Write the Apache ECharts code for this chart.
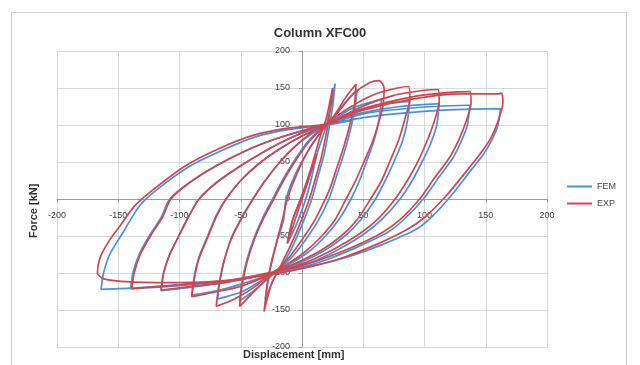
<!DOCTYPE html>
<html>
<head>
<meta charset="utf-8">
<script src="https://cdn.jsdelivr.net/npm/echarts@6/dist/echarts.min.js"></script>
<style>
  html, body { margin: 0; padding: 0; background: #fff; }
  #chart { width: 640px; height: 365px; }
</style>
</head>
<body>
<div id="chart"></div>
<script>
// axis ticks
const xTicks = [-200, -150, -100, -50, 0, 50, 100, 150, 200];
const yTicks = [-200, -150, -100, -50, 0, 50, 100, 150, 200];

// FEM (blue) - one array per cycle: up-branch then down-branch, [disp mm, force kN]
const femCycle1 = [[0, 0], [6, 30], [12, 60], [8, 30], [4, 5], [0, -15], [-6, -40], [-12, -60]];
const femCycle2 = [[-8, -30], [0, 5], [8, 40], [15, 75], [20, 100], [24, 130], [27, 156],
  [25, 125], [22, 95], [18, 60], [13, 30], [8, 0], [0, -35], [-8, -65], [-16, -90], [-23, -108], [-30, -135]];
const femCycle3 = [[-28, -110], [-25, -85], [-20, -55], [-15, -28], [-13, 0], [-5, 35], [5, 65], [15, 90], [25, 108], [35, 130], [45, 148],
  [43, 120], [39, 90], [34, 60], [28, 30], [22, 0], [13, -30], [3, -55], [-8, -78], [-18, -94], [-28, -108], [-40, -125], [-51, -138]];
const femCycle4 = [[-49, -112], [-45, -82], [-39, -52], [-32, -25], [-24, 0], [-15, 28], [-5, 55], [5, 78], [15, 94], [25, 105], [40, 122], [65, 135],
  [63, 108], [59, 80], [53, 52], [47, 25], [40, 0], [30, -28], [18, -52], [5, -72], [-10, -88], [-22, -98], [-35, -112], [-50, -126], [-69, -135]];
const femCycle5 = [[-67, -110], [-63, -80], [-57, -50], [-48, -22], [-40, 0], [-30, 25], [-18, 50], [-5, 72], [8, 88], [20, 100], [40, 117], [65, 128], [88, 132],
  [86, 105], [82, 78], [75, 50], [68, 25], [60, 0], [48, -28], [35, -50], [18, -70], [0, -85], [-20, -97], [-28, -103], [-50, -115], [-70, -124], [-90, -130]];
const femCycle6 = [[-88, -105], [-84, -78], [-77, -50], [-70, -22], [-62, 0], [-50, 25], [-35, 48], [-18, 68], [0, 85], [20, 100], [45, 115], [80, 125], [112, 129],
  [110, 100], [105, 75], [98, 50], [90, 25], [80, 0], [65, -28], [50, -48], [30, -68], [10, -84], [-10, -94], [-25, -100], [-60, -112], [-90, -119], [-115, -124]];
const femCycle7 = [[-113, -100], [-108, -75], [-100, -48], [-92, -22], [-84, 0], [-70, 22], [-50, 45], [-30, 65], [-10, 82], [5, 92], [20, 100], [50, 115], [90, 123], [137, 127],
  [135, 100], [130, 78], [123, 55], [112, 30], [100, 2], [85, -25], [70, -45], [45, -65], [20, -82], [0, -92], [-25, -100], [-60, -110], [-100, -117], [-140, -121]];
const femCycle8 = [[-138, -100], [-133, -75], [-124, -48], [-115, -25], [-108, 0], [-92, 22], [-70, 45], [-45, 66], [-20, 82], [0, 92], [20, 100], [50, 110], [90, 117], [130, 121], [162, 122],
  [160, 100], [155, 80], [148, 60], [138, 39], [122, 5], [106, -24], [92, -42], [65, -62], [38, -78], [10, -90], [-25, -100], [-60, -110], [-100, -116], [-135, -120], [-164, -122]];
const femCycle9 = [[-162, -100], [-157, -75], [-146, -45], [-133, -10], [-119, 12], [-92, 44], [-65, 66], [-38, 84], [-10, 94], [20, 100], [40, 106]];

// EXP (red)
const expCycle1 = [[0, 0], [6, 30], [12, 60], [6, 30], [0, 0], [-6, -30], [-12, -60]];
const expCycle2 = [[-8, -30], [0, 5], [8, 45], [15, 85], [20, 110], [25, 150],
  [23, 120], [20, 90], [16, 58], [11, 28], [6, 0], [-2, -35], [-10, -65], [-18, -92], [-25, -115], [-31, -152]];
const expCycle3 = [[-29, -125], [-26, -95], [-21, -60], [-16, -28], [-12, 0], [-4, 35], [6, 68], [16, 92], [26, 112], [36, 138], [44, 155],
  [43, 130], [39, 100], [34, 70], [28, 40], [23, 15], [19, 0], [10, -30], [0, -55], [-10, -78], [-20, -95], [-30, -110], [-42, -130], [-51, -145]];
const expCycle4 = [[-49, -118], [-45, -86], [-39, -55], [-31, -25], [-23, 0], [-14, 28], [-4, 55], [6, 78], [16, 95], [28, 115], [42, 142], [55, 157], [63, 160], [67, 150],
  [66, 125], [62, 100], [57, 75], [50, 48], [43, 22], [36, 0], [27, -28], [15, -52], [2, -72], [-12, -88], [-25, -100], [-38, -118], [-55, -135], [-70, -145]];
const expCycle5 = [[-68, -118], [-64, -86], [-58, -55], [-49, -25], [-40, 0], [-30, 25], [-18, 50], [-5, 72], [8, 90], [20, 102], [40, 125], [60, 142], [78, 150], [87, 152],
  [88, 135], [84, 108], [79, 80], [72, 52], [65, 25], [56, 0], [45, -28], [32, -50], [15, -70], [-3, -85], [-20, -97], [-30, -105], [-50, -118], [-72, -126], [-90, -132]];
const expCycle6 = [[-88, -108], [-84, -80], [-77, -52], [-70, -24], [-62, 0], [-50, 25], [-35, 48], [-18, 68], [0, 85], [20, 100], [45, 122], [75, 140], [100, 147], [111, 148],
  [112, 132], [108, 105], [102, 78], [95, 52], [86, 25], [76, 0], [62, -27], [47, -47], [27, -67], [7, -83], [-12, -94], [-28, -102], [-60, -112], [-90, -118], [-115, -123]];
const expCycle7 = [[-113, -100], [-108, -75], [-100, -48], [-92, -22], [-84, 0], [-70, 22], [-50, 45], [-30, 65], [-10, 82], [5, 93], [20, 102], [50, 122], [90, 138], [120, 144], [137, 145],
  [138, 130], [134, 105], [128, 80], [120, 55], [108, 28], [96, 0], [80, -28], [65, -46], [40, -66], [15, -82], [-5, -92], [-28, -100], [-60, -110], [-100, -116], [-139, -121]];
const expCycle8 = [[-137, -100], [-132, -75], [-123, -48], [-114, -25], [-107, 0], [-92, 22], [-70, 45], [-45, 66], [-20, 82], [0, 92], [20, 102], [50, 120], [90, 135], [130, 142], [160, 142], [163, 143],
  [164, 130], [160, 105], [154, 82], [145, 60], [133, 35], [117, 3], [100, -25], [85, -42], [60, -62], [32, -80], [5, -92], [-25, -102], [-60, -110], [-100, -113], [-140, -112], [-162, -108], [-167, -100]];
const expCycle9 = [[-165, -80], [-158, -58], [-148, -35], [-137, -10], [-122, 12], [-95, 45], [-68, 68], [-40, 86], [-10, 96], [15, 100], [30, 105]];

const femData = [].concat(femCycle1, femCycle2, femCycle3, femCycle4, femCycle5, femCycle6, femCycle7, femCycle8, femCycle9);
const expData = [].concat(expCycle1, expCycle2, expCycle3, expCycle4, expCycle5, expCycle6, expCycle7, expCycle8, expCycle9);

const chart = echarts.init(document.getElementById('chart'));

const labelStyle = { fontSize: 9, color: '#444', fontFamily: 'Liberation Sans', margin: 12, showMinLabel: true, showMaxLabel: true };
const gridLine = { show: true, lineStyle: { color: '#d9d9d9', width: 1 } };
const axisLineStyle = { onZero: false, lineStyle: { color: '#9a9a9a', width: 1 } };

const option = {
  animation: false,
  backgroundColor: '#fff',
  title: {
    text: 'Column XFC00',
    left: 'center',
    top: 22,
    textStyle: { fontSize: 13, fontWeight: 'bold', color: '#333', fontFamily: 'Liberation Sans' }
  },
  legend: {
    orient: 'vertical',
    left: 562,
    top: 177,
    itemWidth: 25,
    itemHeight: 2,
    itemGap: 8,
    icon: 'rect',
    textStyle: { fontSize: 9, color: '#444', fontFamily: 'Liberation Sans' },
    data: ['FEM', 'EXP']
  },
  grid: { left: 57, right: 93, top: 51, bottom: 18 },
  xAxis: {
    type: 'value',
    min: -200,
    max: 200,
    interval: 50,
    position: 'bottom',
    offset: -148,
    axisLine: axisLineStyle,
    axisTick: { show: true, length: 3, lineStyle: { color: '#9a9a9a' } },
    splitLine: gridLine,
    axisLabel: Object.assign({ customValues: xTicks }, labelStyle)
  },
  yAxis: {
    type: 'value',
    min: -200,
    max: 200,
    interval: 50,
    position: 'left',
    offset: -245,
    axisLine: axisLineStyle,
    axisTick: { show: true, length: 3, lineStyle: { color: '#9a9a9a' } },
    splitLine: gridLine,
    axisLabel: Object.assign({ customValues: yTicks }, labelStyle)
  },
  graphic: [
    {
      type: 'rect',
      shape: { x: 11.5, y: 12.5, width: 615, height: 365 },
      style: { fill: 'none', stroke: '#cfcfcf', lineWidth: 1 },
      silent: true
    },
    {
      type: 'text',
      left: 243,
      top: 349,
      style: { text: 'Displacement [mm]', fontSize: 11, fontWeight: 'bold', fill: '#333', fontFamily: 'Liberation Sans' }
    },
    {
      type: 'text',
      rotation: Math.PI / 2,
      x: 28,
      y: 238,
      style: { text: 'Force [kN]', fontSize: 11, fontWeight: 'bold', fill: '#333', fontFamily: 'Liberation Sans' }
    }
  ],
  series: [
    {
      name: 'FEM',
      type: 'line',
      data: femData,
      showSymbol: false,
      smooth: 0.25,
      color: '#4a90d9',
      lineStyle: { width: 1.7, color: '#4a90d9' }
    },
    {
      name: 'EXP',
      type: 'line',
      data: expData,
      showSymbol: false,
      smooth: 0.25,
      color: '#d0454f',
      lineStyle: { width: 1.7, color: '#d0454f' }
    }
  ]
};

chart.setOption(option);
</script>
</body>
</html>
